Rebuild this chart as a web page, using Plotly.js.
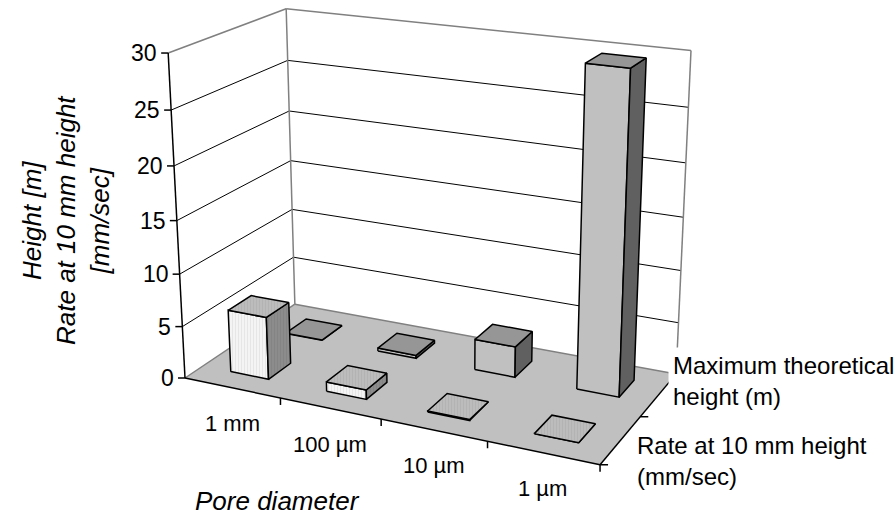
<!DOCTYPE html>
<html>
<head>
<meta charset="utf-8">
<script src="https://cdn.plot.ly/plotly-3.0.1.min.js"></script>
<style>
html, body { margin: 0; padding: 0; background: #fff; overflow: hidden; }
#chart { width: 896px; height: 517px; }
</style>
</head>
<body>
<div id="chart"></div>
<script>
// Capillary rise by pore diameter, drawn as a 3-D column chart
const categories = ['1 mm', '100 µm', '10 µm', '1 µm'];
const seriesNames = ['Rate at 10 mm height<br>(mm/sec)', 'Maximum theoretical<br>height (m)'];
const rateValues = [6.0, 0.9, 0.09, 0.009];         // mm/sec
const heightValues = [0.0297, 0.297, 2.97, 29.7];   // m
const valueTicks = [0, 5, 10, 15, 20, 25, 30];

const FONT = 'Liberation Sans, Arial, sans-serif';

// Plot box in world units: categories along X, series along Y (depth), values along Z
const X_RANGE = [-0.5, categories.length - 0.5];
const Y_RANGE = [-0.5, seriesNames.length - 0.5];
const Z_RANGE = [0, 30];
const BAR = 0.4;   // column width and depth as a fraction of a slot

// Perspective camera (angles in degrees, lengths in screen pixels)
const VIEW = {
  azimuth: 25.25, elevation: 18.3, focal: 1721, cx: 445, cy: 198,
  origin: [-260, 180, 1721],          // camera-space position of the box's front-left floor corner
  unit: [110.275, 109.55, 11.10]      // length of one world unit along X, Y, Z
};

const rad = Math.PI / 180;
const sa = Math.sin(VIEW.azimuth * rad), ca = Math.cos(VIEW.azimuth * rad);
const se = Math.sin(VIEW.elevation * rad), ce = Math.cos(VIEW.elevation * rad);
const AX = [[ca, sa * se, -sa * ce], [sa, -ca * se, ca * ce], [0, -ce, -se]];

function project(X, Y, Z) {
  const d = [(X - X_RANGE[0]) * VIEW.unit[0], (Y - Y_RANGE[0]) * VIEW.unit[1], (Z - Z_RANGE[0]) * VIEW.unit[2]];
  const p = [0, 1, 2].map(k => VIEW.origin[k] + d[0] * AX[0][k] + d[1] * AX[1][k] + d[2] * AX[2][k]);
  return [VIEW.cx + VIEW.focal * p[0] / p[2], VIEW.cy + VIEW.focal * p[1] / p[2]];
}

const traces = [];

function polygon(pts, face, lineColor, lineWidth) {
  const xy = pts.map(p => project(p[0], p[1], p[2]));
  const t = {
    type: 'scatter', mode: 'lines', hoverinfo: 'skip', showlegend: false,
    x: xy.map(q => q[0]).concat([xy[0][0]]),
    y: xy.map(q => q[1]).concat([xy[0][1]]),
    fill: 'toself', fillcolor: face.color,
    line: { color: lineColor, width: lineWidth }
  };
  if (face.pattern) {
    t.fillpattern = { shape: face.pattern, bgcolor: face.color, fgcolor: face.ink,
                      size: 3, solidity: 0.3 };
  }
  traces.push(t);
}

function segments(list, color, width) {
  const x = [], y = [];
  list.forEach(s => {
    const a = project(...s[0]), b = project(...s[1]);
    x.push(a[0], b[0], null); y.push(a[1], b[1], null);
  });
  traces.push({ type: 'scatter', mode: 'lines', hoverinfo: 'skip', showlegend: false,
                x, y, line: { color, width } });
}

// Screen-space tick marks hung off projected axis points
function ticks(points, dx, dy, color, width) {
  const x = [], y = [];
  points.forEach(p => {
    const a = project(...p);
    x.push(a[0], a[0] + dx, null); y.push(a[1], a[1] + dy, null);
  });
  traces.push({ type: 'scatter', mode: 'lines', hoverinfo: 'skip', showlegend: false,
                x, y, line: { color, width } });
}

const [x0, x1] = X_RANGE, [y0, y1] = Y_RANGE, [z0, z1] = Z_RANGE;

// Floor
polygon([[x0, y0, z0], [x1, y0, z0], [x1, y1, z0], [x0, y1, z0]], { color: '#c0c0c0' }, 'rgba(0,0,0,0)', 0);
segments([[[x0, y0, z0], [x0, y1, z0]], [[x0, y1, z0], [x1, y1, z0]]], '#808080', 1.5);

// Gridlines on the side wall and back wall
const inner = valueTicks.filter(v => v > z0 && v < z1);
segments(inner.flatMap(v => [[[x0, y0, v], [x0, y1, v]], [[x0, y1, v], [x1, y1, v]]]), '#000', 1);

// Wall borders
segments([[[x0, y0, z1], [x0, y1, z1]], [[x0, y1, z1], [x1, y1, z1]],
          [[x0, y1, z0], [x0, y1, z1]], [[x1, y1, z0], [x1, y1, z1]]], '#808080', 1.5);

// Axes
segments([[[x0, y0, z0], [x0, y0, z1]], [[x0, y0, z0], [x1, y0, z0]], [[x1, y0, z0], [x1, y1, z0]]], '#000', 1.5);
ticks(valueTicks.map(v => [x0, y0, v]), -7, 0, '#000', 1.5);
ticks(categories.map((c, i) => [i + 0.5, y0, z0]), 0, 7, '#000', 1.5);
ticks([y0, ...seriesNames.map((s, j) => j + 0.5)].map(yy => [x1, yy, z0]), 8, 0, '#000', 1.5);

// Columns: back series first, then the front one
const palettes = [
  { front: { color: '#f4f4f4', pattern: '|', ink: '#e4e4e4' },
    side:  { color: '#8c8c8c', pattern: '|', ink: '#838383' },
    top:   { color: '#bcbcbc', pattern: '|', ink: '#b2b2b2' } },
  { front: { color: '#c0c0c0' },
    side:  { color: '#606060' },
    top:   { color: '#969696' } }
];
const seriesValues = [rateValues, heightValues];

for (let s = seriesValues.length - 1; s >= 0; s--) {
  const pal = palettes[s];
  seriesValues[s].forEach((v, c) => {
    const a = c - BAR / 2, b = c + BAR / 2, f = s - BAR / 2, k = s + BAR / 2;
    polygon([[a, f, 0], [b, f, 0], [b, f, v], [a, f, v]], pal.front, '#000', 1.5);
    polygon([[b, f, 0], [b, k, 0], [b, k, v], [b, f, v]], pal.side, '#000', 1.5);
    polygon([[a, f, v], [b, f, v], [b, k, v], [a, k, v]], pal.top, '#000', 1.5);
  });
}

// Text
const annotations = [];
const tickFont = { family: FONT, size: 22, color: '#000' };

valueTicks.forEach(v => {
  const p = project(x0, y0, v);
  annotations.push({ x: p[0], y: p[1], text: String(v), showarrow: false,
                     xanchor: 'right', yanchor: 'middle', xshift: -9,
                     font: { family: FONT, size: 23, color: '#000' } });
});

categories.forEach((t, i) => {
  const p = project(i, y0, z0);
  annotations.push({ x: p[0], y: p[1], text: t, showarrow: false,
                     xanchor: 'center', yanchor: 'middle', yshift: -36, font: tickFont });
});

const seriesShift = [[11, -21], [9, 14]];
seriesNames.forEach((t, j) => {
  const p = project(x1, j, z0);
  annotations.push({ x: p[0], y: p[1], text: t, showarrow: false, align: 'left',
                     xanchor: 'left', yanchor: 'middle',
                     xshift: seriesShift[j][0], yshift: seriesShift[j][1],
                     bgcolor: '#fff', borderpad: 4,
                     font: { family: FONT, size: 24, color: '#000' } });
});

annotations.push({
  xref: 'paper', yref: 'paper', x: 66 / 896, y: 1 - 220 / 517, textangle: -90,
  xanchor: 'center', yanchor: 'middle',
  text: '<i>Height [m]</i><br><i>Rate at 10 mm height</i><br><i>[mm/sec]</i>',
  showarrow: false, font: { family: FONT, size: 26, color: '#000' }
});
annotations.push({
  xref: 'paper', yref: 'paper', x: 193 / 896, y: 1 - 501 / 517,
  xanchor: 'left', yanchor: 'middle',
  text: '<i>Pore diameter</i>', showarrow: false,
  font: { family: FONT, size: 26, color: '#000' }
});

const layout = {
  width: 896, height: 517,
  margin: { l: 0, r: 0, t: 0, b: 0 },
  paper_bgcolor: '#fff', plot_bgcolor: '#fff',
  showlegend: false,
  xaxis: { range: [0, 896], visible: false, fixedrange: true },
  yaxis: { range: [517, 0], visible: false, fixedrange: true },
  annotations
};

Plotly.newPlot('chart', traces, layout, { staticPlot: true, displayModeBar: false });
</script>
</body>
</html>
